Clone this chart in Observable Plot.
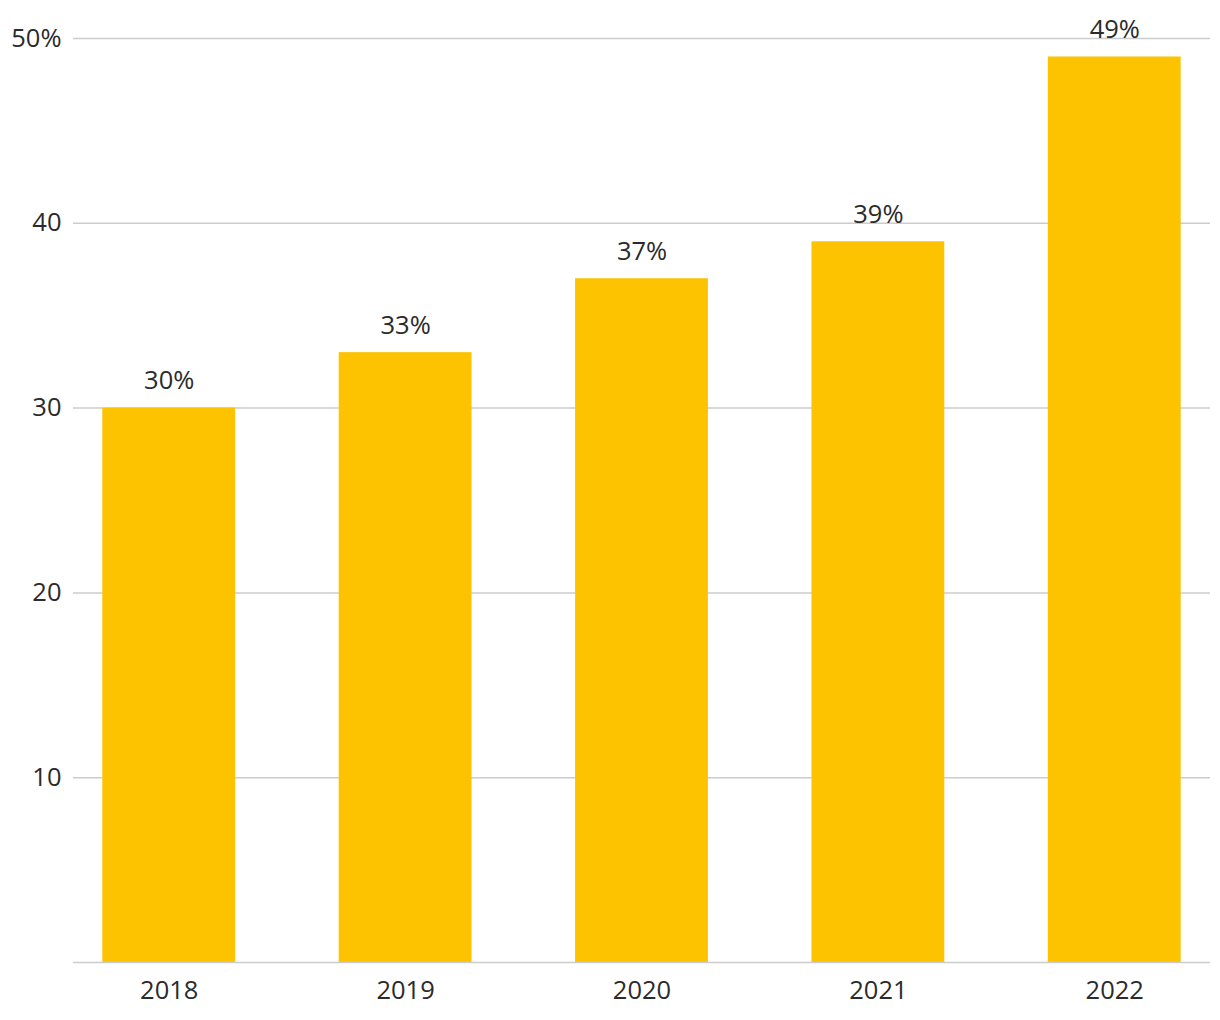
<!DOCTYPE html>
<html>
<head>
<meta charset="utf-8">
<script src="https://cdn.jsdelivr.net/npm/d3@7"></script>
<script src="https://cdn.jsdelivr.net/npm/@observablehq/plot@0.6"></script>
<style>
  html, body { margin: 0; padding: 0; background: #fff; }
  #chart { width: 1220px; height: 1020px; }
  svg { font-family: "Open Sans", "Noto Sans", sans-serif; }
</style>
</head>
<body>
<div id="chart"></div>
<script>
const years = ["2018", "2019", "2020", "2021", "2022"];
const shares = [30, 33, 37, 39, 49];
const yTicks = [10, 20, 30, 40, 50];

const data = years.map((year, i) => ({year, share: shares[i]}));

const chart = Plot.plot({
  width: 1220,
  height: 1020,
  marginTop: 38,
  marginBottom: 58,
  marginLeft: 73,
  marginRight: 10,
  style: {fontFamily: '"Open Sans", "Noto Sans", sans-serif', fontSize: "26px", color: "#333", background: "#fff"},
  x: {domain: years, paddingInner: 0.438, paddingOuter: 0.124, round: false, label: null},
  y: {domain: [0, 50], label: null},
  marks: [
    Plot.ruleY(yTicks, {stroke: "#cccccc", strokeWidth: 1.5, strokeOpacity: 1}),
    Plot.barY(data, {x: "year", y: "share", fill: "#FDC300"}),
    Plot.ruleY([0], {stroke: "#cccccc", strokeWidth: 1.5}),
    Plot.text(data, {x: "year", y: "share", text: d => d.share + "%", lineAnchor: "middle", dy: -27, fill: "#2b2b2b", fontSize: 25.5}),
    Plot.axisY(yTicks, {tickSize: 0, tickPadding: 12, fontSize: 25.5, fill: "#2b2b2b", tickFormat: d => d === 50 ? "50%" : String(d), label: null}),
    Plot.axisX({tickSize: 0, tickPadding: 18, fontSize: 25.5, fill: "#2b2b2b", label: null})
  ]
});
document.getElementById("chart").appendChild(chart);
</script>
</body>
</html>
